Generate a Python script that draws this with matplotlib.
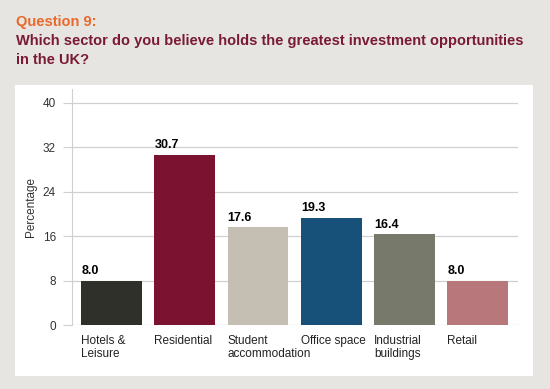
import matplotlib.pyplot as plt
from matplotlib.patches import Rectangle

# Data
sectors = ["Hotels &\nLeisure", "Residential", "Student\naccommodation",
           "Office space", "Industrial\nbuildings", "Retail"]
values = [8.0, 30.7, 17.6, 19.3, 16.4, 8.0]
colors = ["#30302a", "#7b1230", "#c5beb3", "#175078", "#777a6b", "#b8777b"]
yticks = [0, 8, 16, 24, 32, 40]

plt.rcParams['font.family'] = ['Liberation Sans', 'DejaVu Sans']

fig = plt.figure(figsize=(5.5, 3.89), dpi=100)
fig.patch.set_facecolor("#e6e5e1")

# white panel behind the chart
fig.add_artist(Rectangle((15 / 550, 1 - 376 / 389), (533 - 15) / 550, (376 - 85) / 389,
                         transform=fig.transFigure, facecolor="white",
                         edgecolor="none", zorder=0))

fig.text(16 / 550, 1 - 22 / 389, "Question 9:", color="#e8692a",
         fontsize=10.5, fontweight="bold", va="center", ha="left")
fig.text(16 / 550, 1 - 41 / 389, "Which sector do you believe holds the greatest investment opportunities",
         color="#7a1a34", fontsize=10.5, fontweight="bold", va="center", ha="left")
fig.text(16 / 550, 1 - 60 / 389, "in the UK?",
         color="#7a1a34", fontsize=10.5, fontweight="bold", va="center", ha="left")

ax = fig.add_axes([72 / 550, 1 - 325 / 389, (518 - 72) / 550, (325 - 89) / 389])
ax.set_facecolor("none")

x = list(range(len(sectors)))
width = 0.83
bars = ax.bar(x, values, width=width, color=colors, zorder=3)

for xi, v in zip(x, values):
    ax.text(xi - width / 2, v + 0.6, f"{v:.1f}", ha="left", va="bottom",
            fontsize=9, fontweight="bold", color="black", zorder=4)

ax.set_xlim(-0.54, 5.55)
ax.set_ylim(0, 42.5)
ax.set_yticks(yticks)
ax.set_yticklabels([str(t) for t in yticks], fontsize=8.5, color="#333333")
ax.grid(axis="y", color="#d0d0d0", linewidth=0.9, zorder=0)

# first line of each label as tick label, second line as its own text
first = [s.split("\n")[0] for s in sectors]
ax.set_xticks([xi - width / 2 for xi in x])
ax.set_xticklabels(first, ha="left", fontsize=8.5, color="#222222", va="top")
for xi, s in zip(x, sectors):
    parts = s.split("\n")
    if len(parts) > 1:
        ax.annotate(parts[1], xy=(xi - width / 2, 0), xycoords=("data", "axes fraction"),
                    xytext=(0, -16.6), textcoords="offset points",
                    ha="left", va="top", fontsize=8.5, color="#222222",
                    annotation_clip=False)
ax.tick_params(axis="x", length=0, pad=7)
ax.tick_params(axis="y", length=6.5, color="#d0d0d0", pad=5)

for s in ["top", "right", "bottom"]:
    ax.spines[s].set_visible(False)
ax.spines["left"].set_color("#d0d0d0")

ax.set_ylabel("Percentage", fontsize=8.5, color="#333333", labelpad=4)

fig.savefig("out.png", dpi=100, facecolor=fig.get_facecolor())
